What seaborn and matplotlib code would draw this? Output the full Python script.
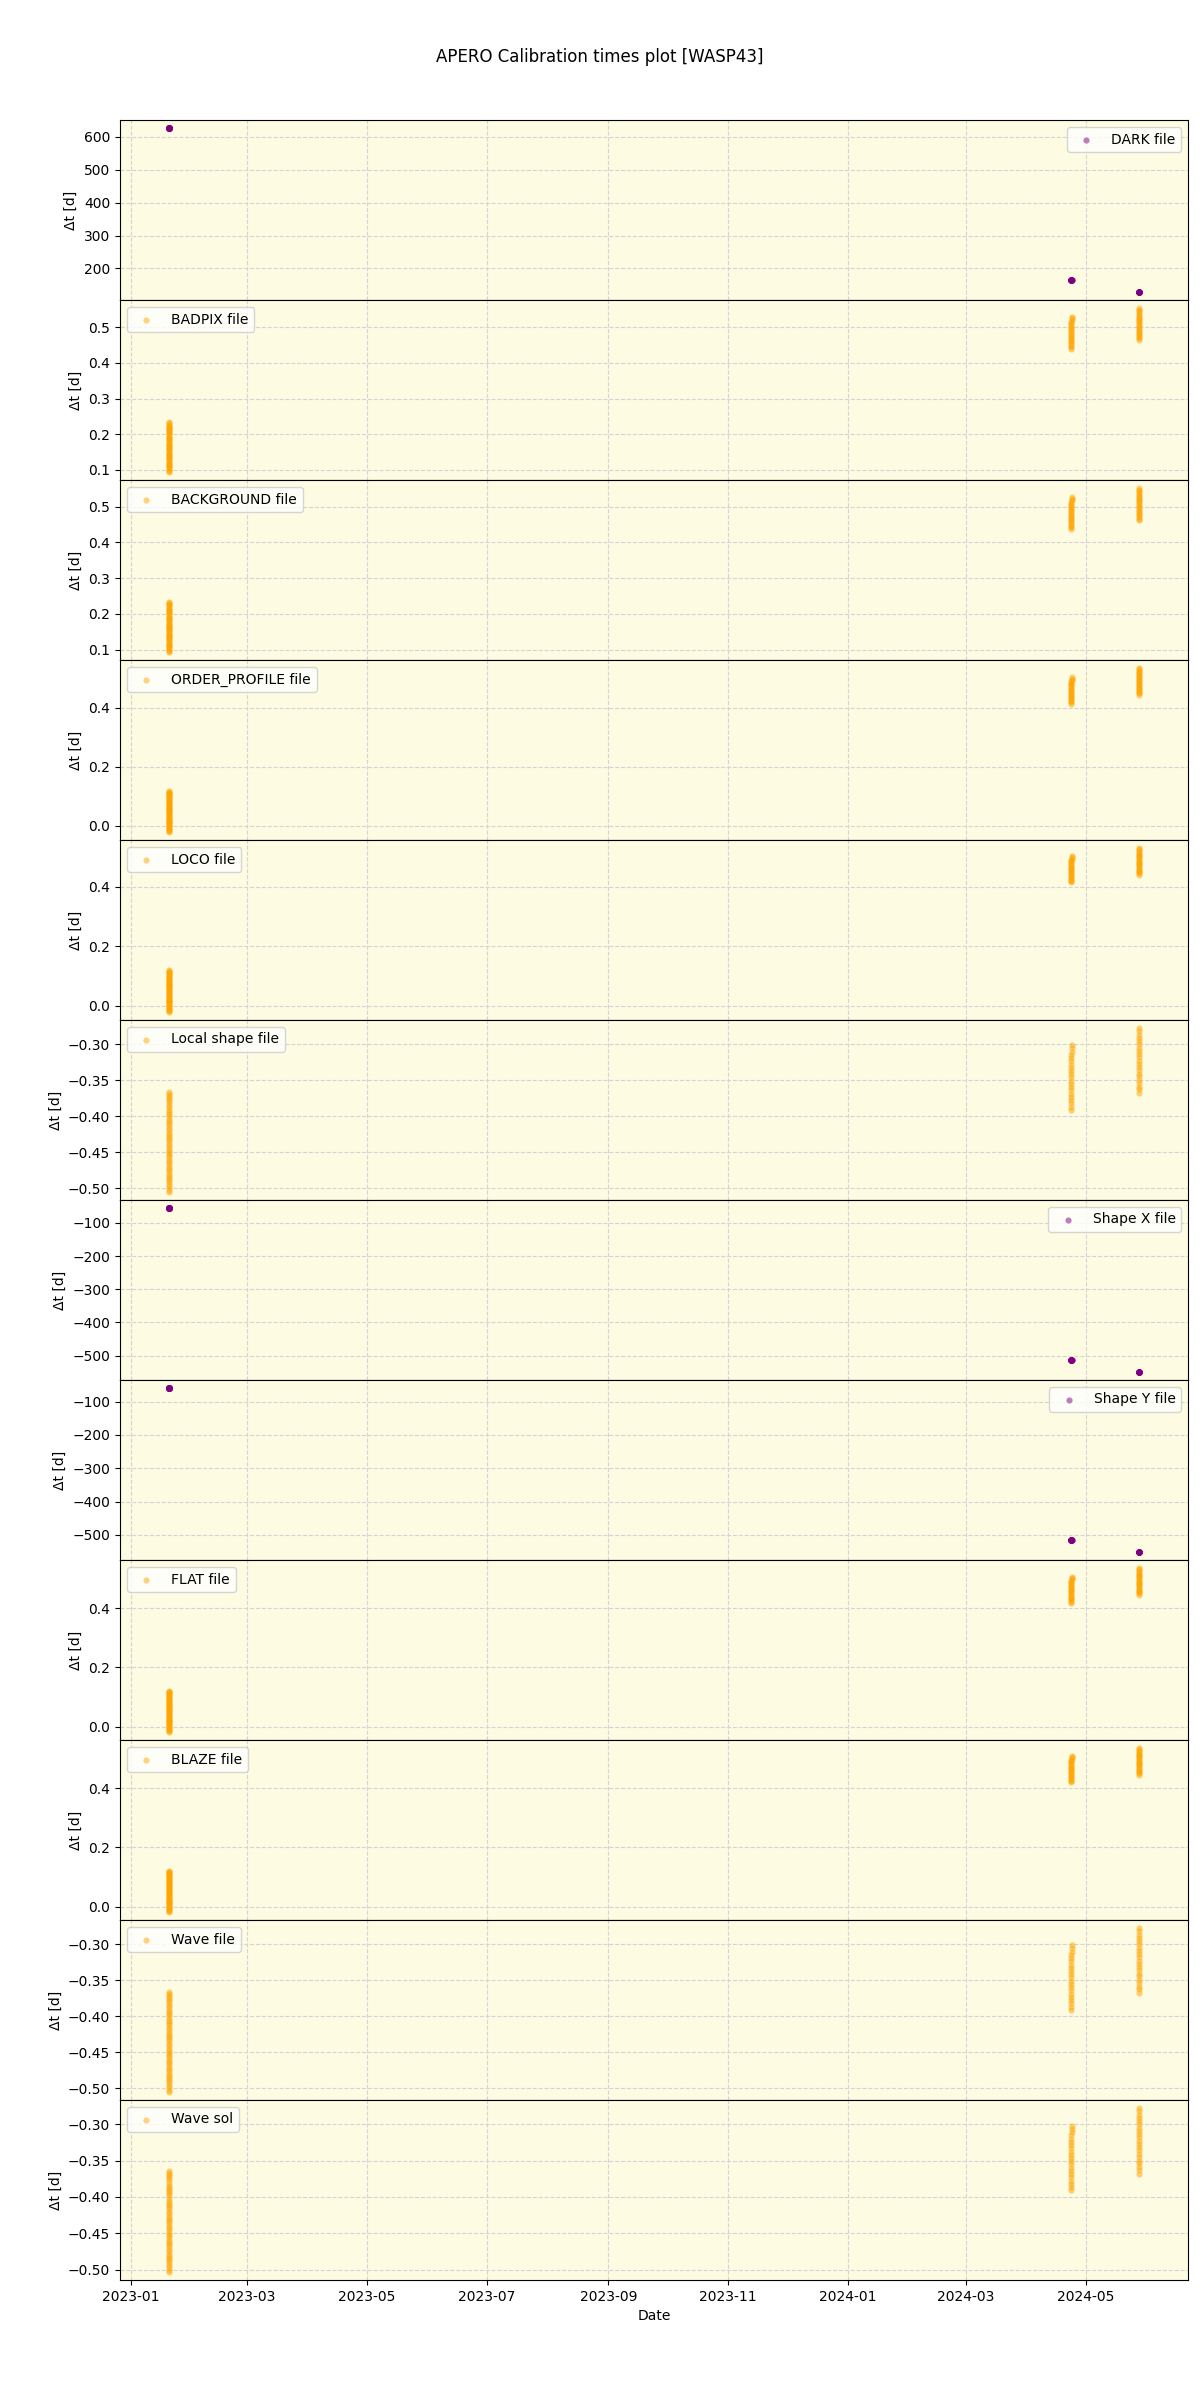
import matplotlib
matplotlib.use("Agg")
import matplotlib.pyplot as plt
import seaborn as sns
import pandas as pd
import numpy as np

# Night start times (observation nights)
night_dates = ["2023-01-20 01:00", "2024-04-23 16:00", "2024-05-28 06:00"]

# Observation time offsets within each night [d]
obs_n1 = [0.000, 0.003, 0.006, 0.010, 0.013, 0.016, 0.019, 0.022, 0.025, 0.029,
          0.032, 0.035, 0.038, 0.041, 0.044, 0.048, 0.051, 0.054, 0.057, 0.060,
          0.063, 0.067, 0.070, 0.073, 0.076, 0.079, 0.082, 0.086, 0.089, 0.092,
          0.095, 0.098, 0.101, 0.105, 0.108, 0.111, 0.114, 0.117, 0.120, 0.124,
          0.127, 0.130, 0.133, 0.136, 0.139]
obs_n2 = [0.000, 0.004, 0.009, 0.013, 0.018, 0.022, 0.027, 0.031, 0.036, 0.040,
          0.045, 0.049, 0.053, 0.058, 0.062, 0.067, 0.071, 0.076, 0.080, 0.085,
          0.089]
obs_n3 = [0.000, 0.005, 0.009, 0.014, 0.018, 0.023, 0.027, 0.032, 0.036, 0.041,
          0.045, 0.050, 0.054, 0.059, 0.063, 0.068, 0.072, 0.077, 0.081, 0.086,
          0.090]

# Panel labels, colours, and Δt of first observation in each night
labels = ["DARK file", "BADPIX file", "BACKGROUND file", "ORDER_PROFILE file",
          "LOCO file", "Local shape file", "Shape X file", "Shape Y file",
          "FLAT file", "BLAZE file", "Wave file", "Wave sol"]
colors = ["purple", "orange", "orange", "orange", "orange", "orange",
          "purple", "purple", "orange", "orange", "orange", "orange"]
start_dark = [626.0, 166.0, 129.0]
start_badpix = [0.094, 0.440, 0.464]
start_background = [0.094, 0.438, 0.462]
start_order_profile = [-0.020, 0.415, 0.445]
start_loco = [-0.020, 0.415, 0.440]
start_local_shape = [-0.505, -0.391, -0.368]
start_shape_x = [-56.0, -513.0, -549.0]
start_shape_y = [-60.0, -515.0, -551.0]
start_flat = [-0.017, 0.417, 0.445]
start_blaze = [-0.017, 0.420, 0.445]
start_wave_file = [-0.505, -0.391, -0.368]
start_wave_sol = [-0.503, -0.391, -0.368]
starts = [start_dark, start_badpix, start_background, start_order_profile,
          start_loco, start_local_shape, start_shape_x, start_shape_y,
          start_flat, start_blaze, start_wave_file, start_wave_sol]

obs_lists = [obs_n1, obs_n2, obs_n3]

fig, axes = plt.subplots(12, 1, figsize=(12, 24), dpi=100, sharex=True)
fig.subplots_adjust(left=0.1, right=0.99, top=0.95, bottom=0.05, hspace=0)

for ax, label, color, start in zip(axes, labels, colors, starts):
    rows = []
    for nd, obs, s in zip(night_dates, obs_lists, start):
        t0 = pd.Timestamp(nd)
        for o in obs:
            rows.append({"date": t0 + pd.Timedelta(days=o), "dt": s + o})
    df = pd.DataFrame(rows)
    ax.set_facecolor("#fdfbe2")
    sns.scatterplot(data=df, x="date", y="dt", ax=ax, color=color, alpha=0.5,
                    s=20, linewidth=0, label=label)
    ax.grid(True, linestyle="--", color="#d4d4d4", linewidth=0.8)
    ax.set_axisbelow(True)
    ax.set_ylabel("Δt [d]")
    ax.set_xlabel("")
    loc = "upper right" if color == "purple" else "upper left"
    ax.legend(loc=loc)

axes[-1].set_xlabel("Date")
fig.suptitle("APERO Calibration times plot [WASP43]")
fig.savefig("out.png", dpi=100)
